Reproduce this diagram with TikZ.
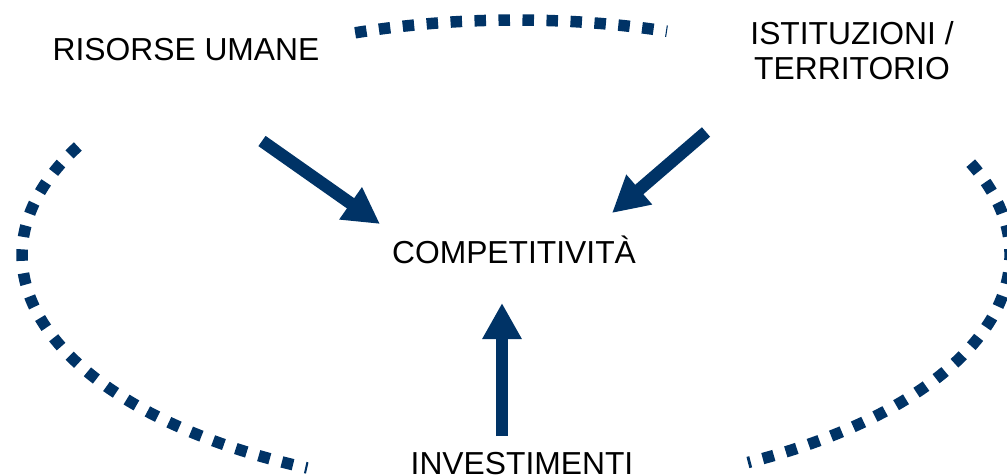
\documentclass[tikz,border=0pt]{standalone}
\usepackage{fontspec}
\setmainfont{Liberation Sans}
\usetikzlibrary{arrows.meta}
\definecolor{navy}{HTML}{003366}
\begin{document}
\begin{tikzpicture}[x=1pt,y=1pt,
  lbl/.style={inner sep=0pt,font=\fontsize{31.8}{35}\selectfont,text=black},
  dots/.style={draw=navy,line width=11.5pt,dash pattern=on 11.5pt off 12.5pt,line cap=butt},
  bigarrow/.style={draw=navy,line width=12.5pt,-{Triangle[length=36pt,width=37pt]}}]
\useasboundingbox (0,0) rectangle (1007,-475);
\clip (0,0) rectangle (1007,-475);
% dotted ellipse arcs (centre 516,-255; radii 494 x 235)
\coordinate (ec) at (516,-255);
\draw[dots] (ec) ++(109:494pt and 235pt) arc[start angle=109,end angle=72.2,x radius=494pt,y radius=235pt];
\draw[dots] (ec) ++(152.5:494pt and 235pt) arc[start angle=152.5,end angle=245,x radius=494pt,y radius=235pt];
\draw[dots] (ec) ++(23:494pt and 235pt) arc[start angle=23,end angle=-62,x radius=494pt,y radius=235pt];
% labels
\node[lbl,anchor=base] (ris) at (186,-60) {RISORSE UMANE};
\node[lbl,anchor=north,align=center] (ist) at (852,-21) {ISTITUZIONI /\\TERRITORIO};
\node[lbl,anchor=base] (comp) at (514,-263) {COMPETITIVITÀ};
\node[lbl,anchor=base] (inv) at (522,-474) {INVESTIMENTI};
% arrows
\coordinate (a1s) at (262,-141);
\coordinate (a1t) at (380,-224);
\coordinate (a2s) at (706,-132);
\coordinate (a2t) at (612,-213);
\coordinate (a3s) at (502,-436);
\coordinate (a3t) at (502,-303);
\draw[bigarrow] (a1s) -- (a1t);
\draw[bigarrow] (a2s) -- (a2t);
\draw[bigarrow] (a3s) -- (a3t);
\end{tikzpicture}
\end{document}
